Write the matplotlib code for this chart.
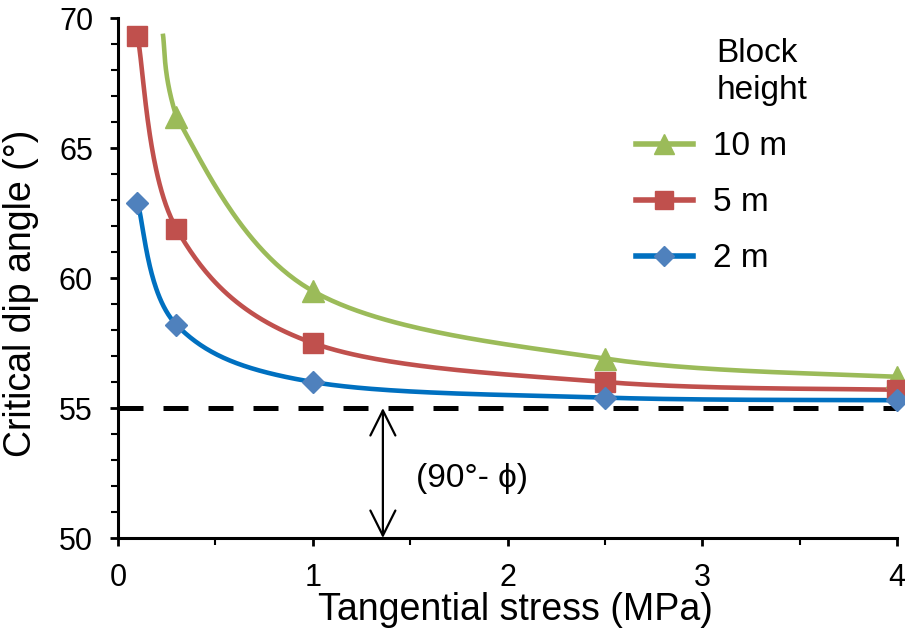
import numpy as np
import matplotlib
matplotlib.use("Agg")
import matplotlib.pyplot as plt
from matplotlib.ticker import MultipleLocator

plt.rcParams['font.family'] = ['Liberation Sans', 'DejaVu Sans']

# データ (Tangential stress [MPa] -> critical dip angle [deg])
x_10m = [0.23, 0.3, 1.0, 2.5, 4.0]   # 先頭は線の始点 (マーカー無し)
y_10m = [69.4, 66.2, 59.5, 56.9, 56.2]
x_5m = [0.1, 0.3, 1.0, 2.5, 4.0]
y_5m = [69.3, 61.9, 57.5, 56.0, 55.7]
x_2m = [0.1, 0.3, 1.0, 2.5, 4.0]
y_2m = [62.9, 58.2, 56.0, 55.4, 55.3]
limit_angle = 55.0  # 90° - phi
labels = ["10 m", "5 m", "2 m"]


def smooth(xs, ys, n=60):
    # Excel 風のスムージング (Catmull-Rom -> Bezier), 制御点の x は区間内に収める
    p = np.column_stack([xs, ys]).astype(float)
    pts = [p[0]]
    t = np.linspace(0, 1, n)[1:, None]
    for i in range(len(p) - 1):
        p0 = p[i - 1] if i > 0 else p[i]
        p3 = p[i + 2] if i + 2 < len(p) else p[i + 1]
        c1 = p[i] + (p[i + 1] - p0) / 6
        c2 = p[i + 1] - (p3 - p[i]) / 6
        c1[0] = np.clip(c1[0], p[i, 0], p[i + 1, 0])
        c2[0] = np.clip(c2[0], p[i, 0], p[i + 1, 0])
        seg = ((1 - t) ** 3 * p[i] + 3 * (1 - t) ** 2 * t * c1
               + 3 * (1 - t) * t ** 2 * c2 + t ** 3 * p[i + 1])
        pts.extend(seg)
    pts = np.array(pts)
    return pts[:, 0], pts[:, 1]


fig = plt.figure(figsize=(9.05, 6.37), dpi=100)
ax = fig.add_axes([0.1304, 0.1554, 0.8608, 0.8163])

series = [
    (x_10m[1:], y_10m[1:], x_10m, y_10m, "#9BBB59", "#9BBB59", "^", 16),
    (x_5m, y_5m, x_5m, y_5m, "#C0504D", "#C0504D", "s", 14),
    (x_2m, y_2m, x_2m, y_2m, "#0070C0", "#4F81BD", "D", 11),
]
handles = []
for mx, my, lx, ly, lc, mc, mk, ms in series:
    sx, sy = smooth(lx, ly)
    ax.plot(sx, sy, color=lc, lw=3.3, solid_capstyle="butt", zorder=3, clip_on=False)
    ax.plot(mx, my, ls="none", marker=mk, ms=ms, color=mc, zorder=4, clip_on=False)
    h, = ax.plot([], [], color=lc, lw=4, marker=mk, ms=ms * 0.9, mfc=mc, mec=mc)
    handles.append(h)

ax.plot([0, 4], [limit_angle, limit_angle], color="black", lw=3.6,
        dashes=(5, 4), zorder=2, clip_on=False)

ax.annotate("", xy=(1.36, 50), xytext=(1.36, limit_angle),
            arrowprops=dict(arrowstyle="<->", color="black", lw=1.6,
                            mutation_scale=45, shrinkA=0, shrinkB=0))
ax.text(1.53, 52.3, "(90°- ϕ)", fontsize=24, va="center", ha="left")

ax.set_xlim(0, 4)
ax.set_ylim(50, 70)
ax.xaxis.set_major_locator(MultipleLocator(1))
ax.xaxis.set_minor_locator(MultipleLocator(0.5))
ax.yaxis.set_major_locator(MultipleLocator(5))
ax.yaxis.set_minor_locator(MultipleLocator(1))
for s in ["top", "right"]:
    ax.spines[s].set_visible(False)
for s in ["left", "bottom"]:
    ax.spines[s].set_linewidth(2.2)
ax.tick_params(which="major", length=6, width=2, labelsize=22, pad=12)
ax.tick_params(which="minor", length=5, width=1.5)
ax.set_xlabel("Tangential stress (MPa)", fontsize=27)
ax.set_ylabel("Critical dip angle (°)", fontsize=27)
ax.xaxis.set_label_coords(0.51, -0.103)
ax.yaxis.set_label_coords(-0.102, 0.471)

ax.text(0.768, 0.962, "Block\nheight", transform=ax.transAxes, fontsize=24,
        va="top", ha="left", linespacing=1.25)
ax.legend(handles, labels, loc="upper left", bbox_to_anchor=(0.648, 0.808),
          frameon=False, fontsize=24, handlelength=1.7, labelspacing=0.75,
          handletextpad=0.6, borderaxespad=0)

plt.savefig("out.png", dpi=100)
